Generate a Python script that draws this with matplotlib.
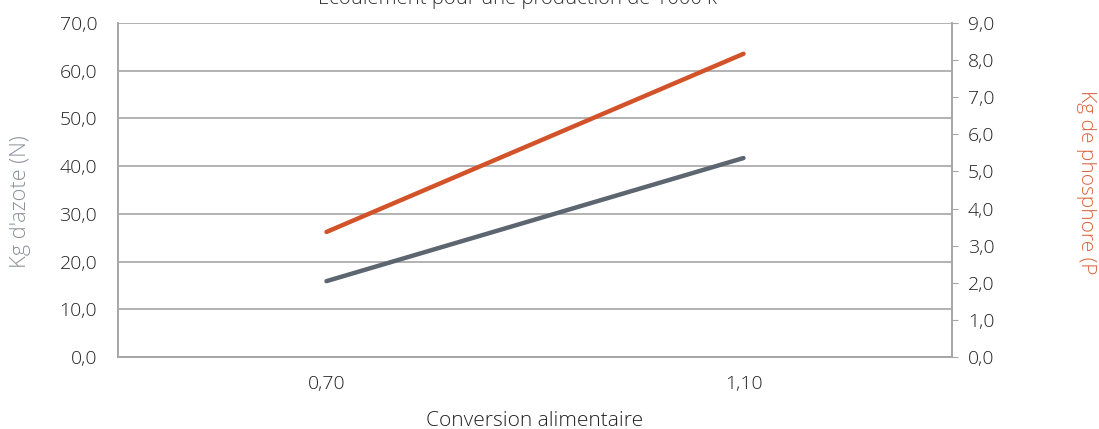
import matplotlib
matplotlib.use("Agg")
import matplotlib.pyplot as plt
from matplotlib.transforms import Bbox

# data
categories = ["0,70", "1,10"]
azote_kg = [15.9, 41.7]        # left axis (N)
phosphore_kg = [3.37, 8.17]    # right axis (P)

left_ticks = [0, 10, 20, 30, 40, 50, 60, 70]
right_ticks = [0, 1, 2, 3, 4, 5, 6, 7, 8, 9]

GRAY_LINE = "#5d6670"
ORANGE = "#d2522a"
GRID = "#a6a6a6"
TICK_TXT = "#222222"
FS = 14

plt.rcParams["font.family"] = ["Open Sans", "DejaVu Sans"]
plt.rcParams["font.weight"] = "light"
plt.rcParams["axes.labelweight"] = "light"

fig = plt.figure(figsize=(10.99, 4.29), dpi=100)
W, H = 1099, 429
ax = fig.add_axes([118 / W, 1 - 357 / H, (952 - 118) / W, (357 - 23) / H])
ax2 = ax.twinx()

x = list(range(len(categories)))
ax.plot(x, azote_kg, color=GRAY_LINE, lw=3.2, solid_capstyle="round", zorder=3)
ax2.plot(x, phosphore_kg, color=ORANGE, lw=3.2, solid_capstyle="round", zorder=3)

ax.set_xlim(-0.5, len(categories) - 0.5)
ax.set_xticks(x)
ax.set_xticklabels(categories)
ax.tick_params(axis="x", length=0, pad=13, labelsize=FS, labelcolor=TICK_TXT)

ax.set_ylim(0, 70)
ax.set_yticks(left_ticks)
ax.set_yticklabels([f"{v:.1f}".replace(".", ",") for v in left_ticks])
ax.tick_params(axis="y", length=0, pad=15, labelsize=FS, labelcolor=TICK_TXT)
ax.yaxis.grid(True, color=GRID, lw=1.2)
ax.set_axisbelow(True)

ax2.set_ylim(0, 9)
ax2.set_yticks(right_ticks)
ax2.set_yticklabels([f"{v:.1f}".replace(".", ",") for v in right_ticks])
ax2.tick_params(axis="y", length=4.5, color=GRID, pad=7, labelsize=FS, labelcolor=TICK_TXT)

for a in (ax, ax2):
    a.spines["top"].set_visible(False)
    for s in ("left", "right", "bottom"):
        a.spines[s].set_color(GRID)
        a.spines[s].set_linewidth(1.2)

ax.set_xlabel("Conversion alimentaire", fontsize=FS + 1, color=TICK_TXT, labelpad=13,
              fontweight="light")
fig.text(21 / W, 1 - 202 / H, "Kg d'azote (N)", rotation=90, ha="center", va="center",
         fontsize=FS + 1.7, color="#8b9199")

ylab = fig.text(1086 / W, 1 - 90 / H, "Kg de phosphore (P)", rotation=270, ha="center",
                va="top", fontsize=FS + 1, color="#d9643c")
ylab.set_clip_on(True)
ylab.set_clip_box(Bbox.from_extents(1040, H - 276, W, H))

fig.text(517 / W, 1 + 3 / H, "Écoulement pour une production de 1000 k", ha="center",
         va="center", fontsize=FS + 0.7, color="#333333")

fig.savefig("out.png", dpi=100)
